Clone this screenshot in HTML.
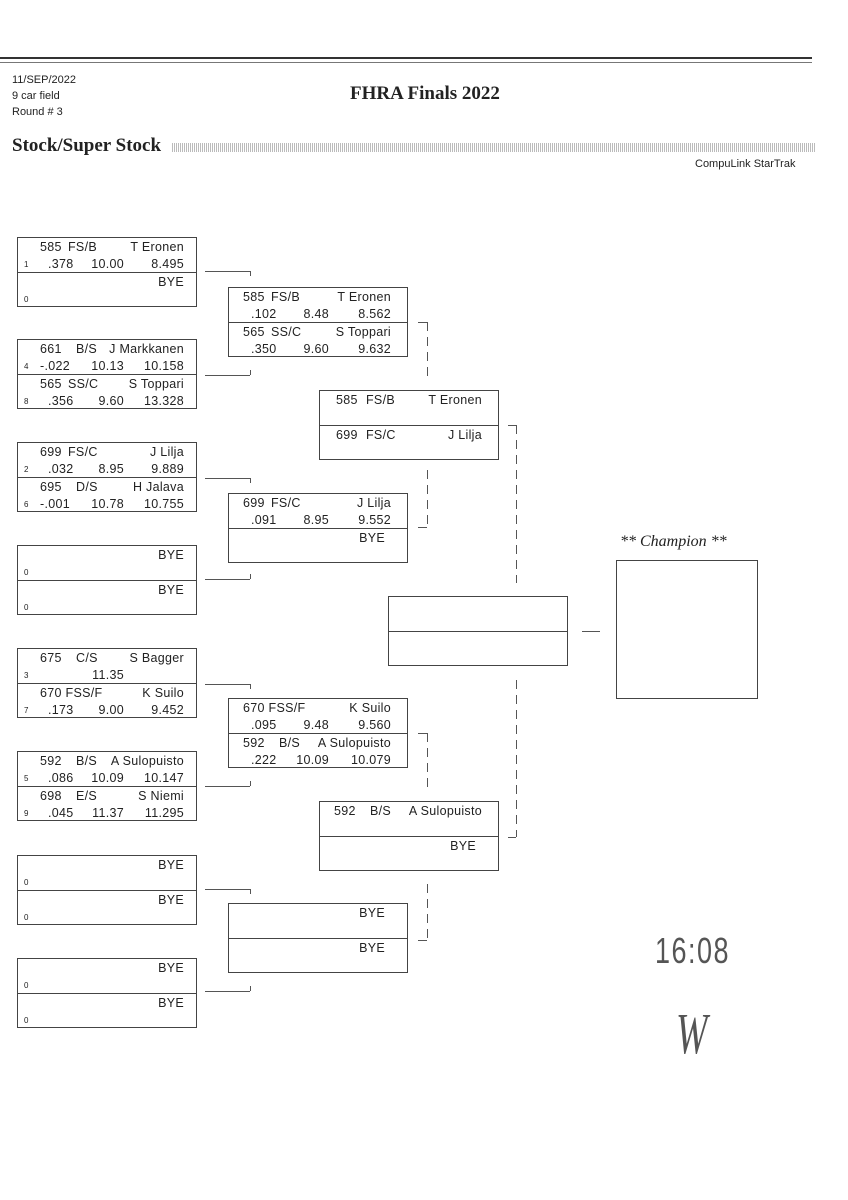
<!DOCTYPE html>
<html><head><meta charset="utf-8"><style>
body{margin:0;width:848px;height:1200px;background:#fff;position:relative;overflow:hidden;font-family:"Liberation Sans",sans-serif;color:#222}
.a{position:absolute}
.b{position:absolute;border:1px solid #444;width:178px;height:68px;box-sizing:content-box}
.h{position:absolute;left:0;right:0;height:34px}
.h2{top:34px;border-top:1px solid #444;height:34px}
.t{position:absolute;font-size:12.5px;line-height:14px;white-space:pre;letter-spacing:0.3px}
.sd{position:absolute;font-size:8px;left:6px;top:22px}
.hl{position:absolute;border-top:1px solid #555;height:0}
.vl{position:absolute;border-left:1px solid #555;width:0}
.dl{position:absolute;width:1px;background:repeating-linear-gradient(180deg,#555 0 9px,transparent 9px 15px)}
</style></head><body>
<div class="a" style="left:0;top:57px;width:812px;border-top:2px solid #333"></div>
<div class="a" style="left:0;top:62px;width:812px;border-top:1px solid #777"></div>
<div class="a" style="left:12px;top:72px;font-size:11px;line-height:16px">11/SEP/2022<br>9 car field<br>Round # 3</div>
<div class="a" style="left:350px;top:83px;font-family:'Liberation Serif',serif;font-weight:bold;font-size:19px">FHRA Finals 2022</div>
<div class="a" style="left:12px;top:135px;font-family:'Liberation Serif',serif;font-weight:bold;font-size:19px">Stock/Super Stock</div>
<div class="a" style="left:172px;top:143px;width:643px;height:9px;background:repeating-linear-gradient(90deg,#bbb 0 1px,#fff 1px 2px)"></div>
<div class="a" style="left:695px;top:158px;font-size:11px">CompuLink StarTrak</div>

<!-- column 1 -->
<div class="b" style="left:17px;top:237px">
 <div class="h"><span class="t" style="left:22px;top:2px">585</span><span class="t" style="left:50px;top:2px">FS/B</span><span class="t" style="right:12px;top:2px">T Eronen</span><span class="sd">1</span><span class="t" style="left:30px;top:19px">.378</span><span class="t" style="right:72px;top:19px">10.00</span><span class="t" style="right:12px;top:19px">8.495</span></div>
 <div class="h h2"><span class="t" style="right:12px;top:2px">BYE</span><span class="sd">0</span></div>
</div>
<div class="b" style="left:17px;top:339px">
 <div class="h"><span class="t" style="left:22px;top:2px">661</span><span class="t" style="left:58px;top:2px">B/S</span><span class="t" style="right:12px;top:2px">J Markkanen</span><span class="sd">4</span><span class="t" style="left:22px;top:19px">-.022</span><span class="t" style="right:72px;top:19px">10.13</span><span class="t" style="right:12px;top:19px">10.158</span></div>
 <div class="h h2"><span class="t" style="left:22px;top:2px">565</span><span class="t" style="left:50px;top:2px">SS/C</span><span class="t" style="right:12px;top:2px">S Toppari</span><span class="sd">8</span><span class="t" style="left:30px;top:19px">.356</span><span class="t" style="right:72px;top:19px">9.60</span><span class="t" style="right:12px;top:19px">13.328</span></div>
</div>
<div class="b" style="left:17px;top:442px">
 <div class="h"><span class="t" style="left:22px;top:2px">699</span><span class="t" style="left:50px;top:2px">FS/C</span><span class="t" style="right:12px;top:2px">J Lilja</span><span class="sd">2</span><span class="t" style="left:30px;top:19px">.032</span><span class="t" style="right:72px;top:19px">8.95</span><span class="t" style="right:12px;top:19px">9.889</span></div>
 <div class="h h2"><span class="t" style="left:22px;top:2px">695</span><span class="t" style="left:58px;top:2px">D/S</span><span class="t" style="right:12px;top:2px">H Jalava</span><span class="sd">6</span><span class="t" style="left:22px;top:19px">-.001</span><span class="t" style="right:72px;top:19px">10.78</span><span class="t" style="right:12px;top:19px">10.755</span></div>
</div>
<div class="b" style="left:17px;top:545px">
 <div class="h"><span class="t" style="right:12px;top:2px">BYE</span><span class="sd">0</span></div>
 <div class="h h2"><span class="t" style="right:12px;top:2px">BYE</span><span class="sd">0</span></div>
</div>
<div class="b" style="left:17px;top:648px">
 <div class="h"><span class="t" style="left:22px;top:2px">675</span><span class="t" style="left:58px;top:2px">C/S</span><span class="t" style="right:12px;top:2px">S Bagger</span><span class="sd">3</span><span class="t" style="right:72px;top:19px">11.35</span></div>
 <div class="h h2"><span class="t" style="left:22px;top:2px">670 FSS/F</span><span class="t" style="right:12px;top:2px">K Suilo</span><span class="sd">7</span><span class="t" style="left:30px;top:19px">.173</span><span class="t" style="right:72px;top:19px">9.00</span><span class="t" style="right:12px;top:19px">9.452</span></div>
</div>
<div class="b" style="left:17px;top:751px">
 <div class="h"><span class="t" style="left:22px;top:2px">592</span><span class="t" style="left:58px;top:2px">B/S</span><span class="t" style="right:12px;top:2px">A Sulopuisto</span><span class="sd">5</span><span class="t" style="left:30px;top:19px">.086</span><span class="t" style="right:72px;top:19px">10.09</span><span class="t" style="right:12px;top:19px">10.147</span></div>
 <div class="h h2"><span class="t" style="left:22px;top:2px">698</span><span class="t" style="left:58px;top:2px">E/S</span><span class="t" style="right:12px;top:2px">S Niemi</span><span class="sd">9</span><span class="t" style="left:30px;top:19px">.045</span><span class="t" style="right:72px;top:19px">11.37</span><span class="t" style="right:12px;top:19px">11.295</span></div>
</div>
<div class="b" style="left:17px;top:855px">
 <div class="h"><span class="t" style="right:12px;top:2px">BYE</span><span class="sd">0</span></div>
 <div class="h h2"><span class="t" style="right:12px;top:2px">BYE</span><span class="sd">0</span></div>
</div>
<div class="b" style="left:17px;top:958px">
 <div class="h"><span class="t" style="right:12px;top:2px">BYE</span><span class="sd">0</span></div>
 <div class="h h2"><span class="t" style="right:12px;top:2px">BYE</span><span class="sd">0</span></div>
</div>

<!-- column 2 -->
<div class="b" style="left:228px;top:287px">
 <div class="h"><span class="t" style="left:14px;top:2px">585</span><span class="t" style="left:42px;top:2px">FS/B</span><span class="t" style="right:16px;top:2px">T Eronen</span><span class="t" style="left:22px;top:19px">.102</span><span class="t" style="right:78px;top:19px">8.48</span><span class="t" style="right:16px;top:19px">8.562</span></div>
 <div class="h h2"><span class="t" style="left:14px;top:2px">565</span><span class="t" style="left:42px;top:2px">SS/C</span><span class="t" style="right:16px;top:2px">S Toppari</span><span class="t" style="left:22px;top:19px">.350</span><span class="t" style="right:78px;top:19px">9.60</span><span class="t" style="right:16px;top:19px">9.632</span></div>
</div>
<div class="b" style="left:228px;top:493px">
 <div class="h"><span class="t" style="left:14px;top:2px">699</span><span class="t" style="left:42px;top:2px">FS/C</span><span class="t" style="right:16px;top:2px">J Lilja</span><span class="t" style="left:22px;top:19px">.091</span><span class="t" style="right:78px;top:19px">8.95</span><span class="t" style="right:16px;top:19px">9.552</span></div>
 <div class="h h2"><span class="t" style="right:22px;top:2px">BYE</span></div>
</div>
<div class="b" style="left:228px;top:698px">
 <div class="h"><span class="t" style="left:14px;top:2px">670 FSS/F</span><span class="t" style="right:16px;top:2px">K Suilo</span><span class="t" style="left:22px;top:19px">.095</span><span class="t" style="right:78px;top:19px">9.48</span><span class="t" style="right:16px;top:19px">9.560</span></div>
 <div class="h h2"><span class="t" style="left:14px;top:2px">592</span><span class="t" style="left:50px;top:2px">B/S</span><span class="t" style="right:16px;top:2px">A Sulopuisto</span><span class="t" style="left:22px;top:19px">.222</span><span class="t" style="right:78px;top:19px">10.09</span><span class="t" style="right:16px;top:19px">10.079</span></div>
</div>
<div class="b" style="left:228px;top:903px">
 <div class="h"><span class="t" style="right:22px;top:2px">BYE</span></div>
 <div class="h h2"><span class="t" style="right:22px;top:2px">BYE</span></div>
</div>

<!-- column 3 -->
<div class="b" style="left:319px;top:390px">
 <div class="h"><span class="t" style="left:16px;top:2px">585</span><span class="t" style="left:46px;top:2px">FS/B</span><span class="t" style="right:16px;top:2px">T Eronen</span></div>
 <div class="h h2"><span class="t" style="left:16px;top:2px">699</span><span class="t" style="left:46px;top:2px">FS/C</span><span class="t" style="right:16px;top:2px">J Lilja</span></div>
</div>
<div class="b" style="left:319px;top:801px">
 <div class="h"><span class="t" style="left:14px;top:2px">592</span><span class="t" style="left:50px;top:2px">B/S</span><span class="t" style="right:16px;top:2px">A Sulopuisto</span></div>
 <div class="h h2"><span class="t" style="right:22px;top:2px">BYE</span></div>
</div>

<!-- column 4 -->
<div class="b" style="left:388px;top:596px"><div class="h"></div><div class="h h2"></div></div>

<!-- champion -->
<div class="a" style="left:620px;top:533px;font-family:'Liberation Serif',serif;font-style:italic;font-size:16px">** Champion **</div>
<div class="a" style="left:616px;top:560px;width:140px;height:137px;border:1px solid #444"></div>
<div class="hl" style="left:582px;top:631px;width:18px"></div>

<!-- col1 connectors -->
<div class="hl" style="left:205px;top:271px;width:45px"></div><div class="vl" style="left:250px;top:271px;height:5px"></div>
<div class="hl" style="left:205px;top:375px;width:45px"></div><div class="vl" style="left:250px;top:370px;height:5px"></div>
<div class="hl" style="left:205px;top:478px;width:45px"></div><div class="vl" style="left:250px;top:478px;height:5px"></div>
<div class="hl" style="left:205px;top:579px;width:45px"></div><div class="vl" style="left:250px;top:574px;height:5px"></div>
<div class="hl" style="left:205px;top:684px;width:45px"></div><div class="vl" style="left:250px;top:684px;height:5px"></div>
<div class="hl" style="left:205px;top:786px;width:45px"></div><div class="vl" style="left:250px;top:781px;height:5px"></div>
<div class="hl" style="left:205px;top:889px;width:45px"></div><div class="vl" style="left:250px;top:889px;height:5px"></div>
<div class="hl" style="left:205px;top:991px;width:45px"></div><div class="vl" style="left:250px;top:986px;height:5px"></div>

<!-- col2 connectors -->
<div class="hl" style="left:418px;top:322px;width:9px"></div><div class="dl" style="left:427px;top:322px;height:58px"></div>
<div class="dl" style="left:427px;top:470px;height:57px"></div><div class="hl" style="left:418px;top:527px;width:9px"></div>
<div class="hl" style="left:418px;top:733px;width:9px"></div><div class="dl" style="left:427px;top:733px;height:58px"></div>
<div class="dl" style="left:427px;top:884px;height:56px"></div><div class="hl" style="left:418px;top:940px;width:9px"></div>

<!-- col3 connectors -->
<div class="hl" style="left:508px;top:425px;width:8px"></div><div class="dl" style="left:516px;top:425px;height:158px"></div>
<div class="dl" style="left:516px;top:680px;height:157px"></div><div class="hl" style="left:508px;top:837px;width:8px"></div>

<!-- handwriting -->
<div class="a" style="left:655px;top:930px;font-size:36px;color:#555;letter-spacing:2px;transform:scaleX(0.75);transform-origin:left">16:08</div>
<div class="a" style="left:676px;top:1000px;font-size:58px;color:#555;font-family:'Liberation Serif',serif;font-style:italic;transform:scaleX(0.65);transform-origin:left">W</div>
</body></html>
